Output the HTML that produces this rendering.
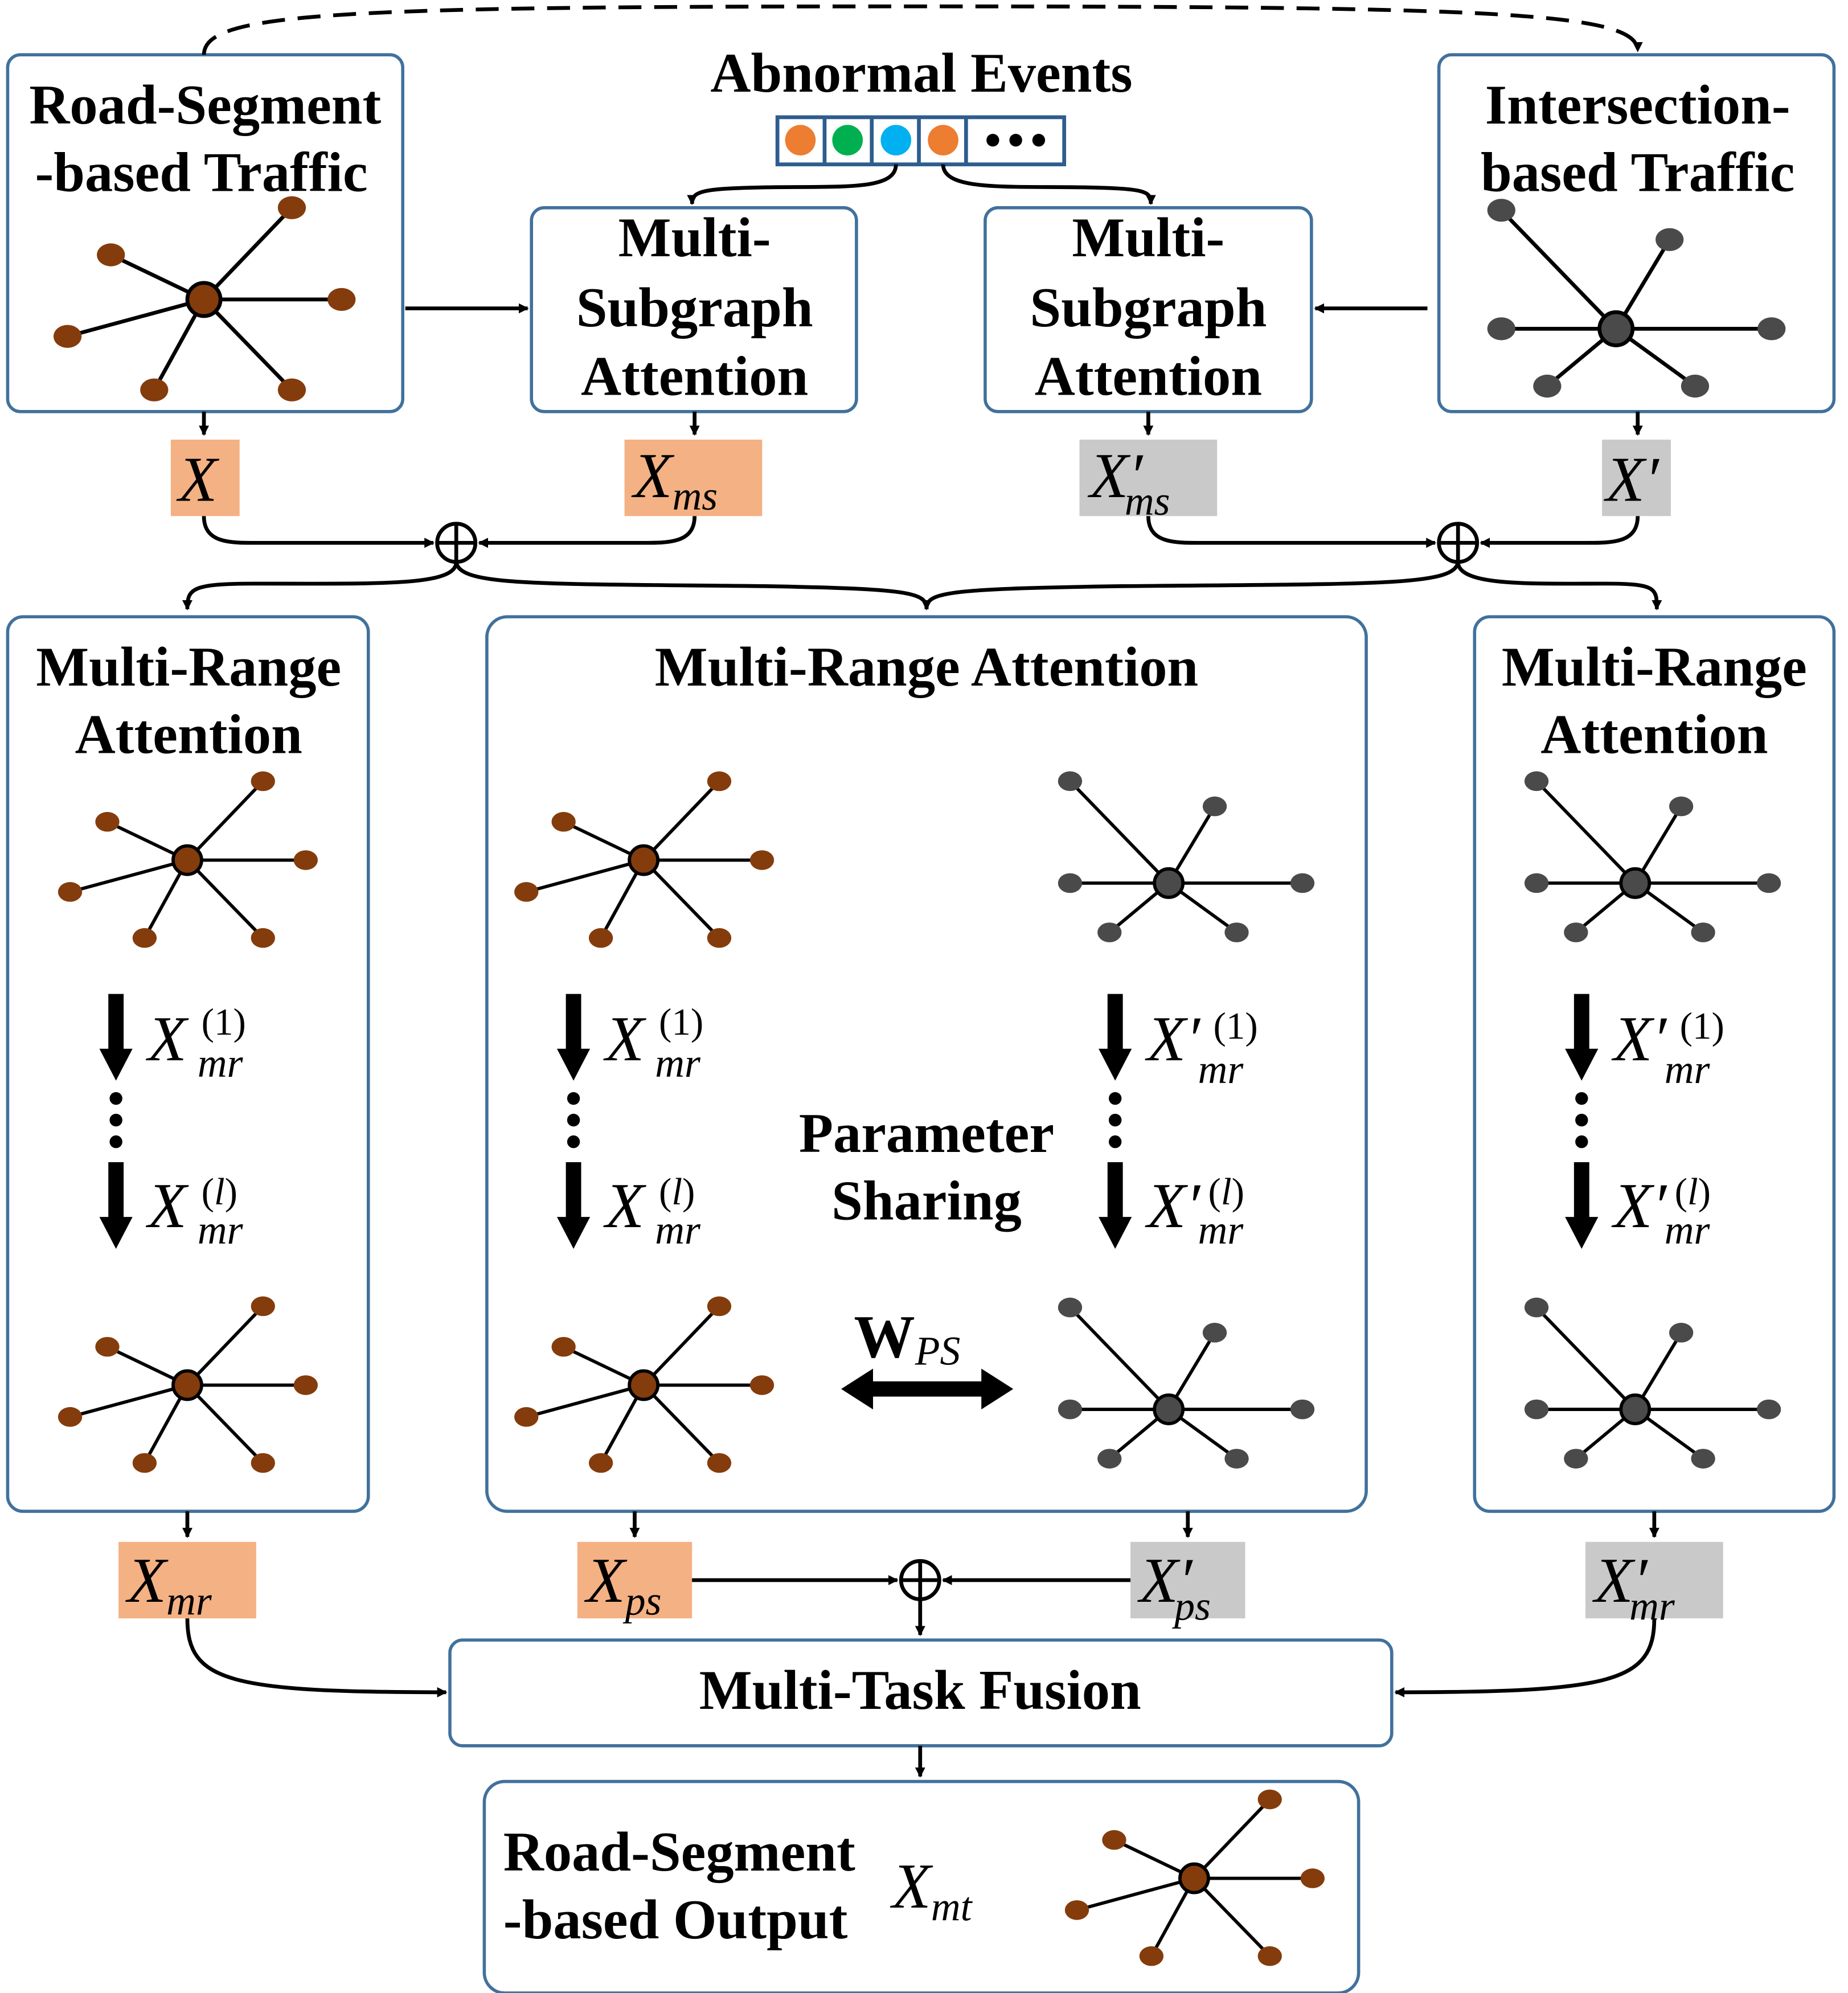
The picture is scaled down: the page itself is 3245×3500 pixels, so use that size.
<!DOCTYPE html>
<html><head><meta charset="utf-8"><style>
html,body{margin:0;padding:0;background:#fff}
svg{display:block}
.t{font-family:"Liberation Serif",serif;font-weight:bold;fill:#000}
.m{font-family:"Liberation Serif",serif;font-style:italic;fill:#000}
.s{font-family:"Liberation Serif",serif;fill:#000;font-size:30px}
</style></head><body>
<svg width="3245" height="3500" viewBox="0 0 1450 1564" preserveAspectRatio="none" xmlns="http://www.w3.org/2000/svg">
<defs>
<marker id="a" markerWidth="8" markerHeight="8" refX="7" refY="4" orient="auto" markerUnits="userSpaceOnUse"><path d="M0,0 L8,4 L0,8 z" fill="#000"/></marker>
<g id="bs">
<g stroke="#000" stroke-width="3">
<line x1="0" y1="0" x2="69" y2="-72"/><line x1="0" y1="0" x2="-73" y2="-35"/><line x1="0" y1="0" x2="108" y2="0"/>
<line x1="0" y1="0" x2="-107" y2="29"/><line x1="0" y1="0" x2="-39" y2="71"/><line x1="0" y1="0" x2="69" y2="71"/></g>
<g fill="#843c0c"><ellipse cx="69" cy="-72" rx="11" ry="9"/><ellipse cx="-73" cy="-35" rx="11" ry="9"/><ellipse cx="108" cy="0" rx="11" ry="9"/>
<ellipse cx="-107" cy="29" rx="11" ry="9"/><ellipse cx="-39" cy="71" rx="11" ry="9"/><ellipse cx="69" cy="71" rx="11" ry="9"/>
<circle r="13" stroke="#000" stroke-width="3"/></g></g>
<g id="gs">
<g stroke="#000" stroke-width="3">
<line x1="0" y1="0" x2="-90" y2="-93"/><line x1="0" y1="0" x2="42" y2="-70"/><line x1="-90" y1="0" x2="122" y2="0"/>
<line x1="0" y1="0" x2="-54" y2="45"/><line x1="0" y1="0" x2="62" y2="45"/></g>
<g fill="#4a4a4a"><ellipse cx="-90" cy="-93" rx="11" ry="9"/><ellipse cx="42" cy="-70" rx="11" ry="9"/><ellipse cx="-90" cy="0" rx="11" ry="9"/>
<ellipse cx="122" cy="0" rx="11" ry="9"/><ellipse cx="-54" cy="45" rx="11" ry="9"/><ellipse cx="62" cy="45" rx="11" ry="9"/>
<circle r="13" stroke="#000" stroke-width="3"/></g></g>
</defs>
<g fill="none" stroke="#41719c" stroke-width="2.5">
<rect x="6" y="43" width="310" height="280" rx="10"/>
<rect x="417" y="163" width="255" height="160" rx="10"/>
<rect x="773" y="163" width="256" height="160" rx="10"/>
<rect x="1129" y="43" width="310" height="280" rx="10"/>
<rect x="6" y="484" width="283" height="702" rx="12"/>
<rect x="382" y="484" width="690" height="702" rx="16"/>
<rect x="1157" y="484" width="282" height="702" rx="12"/>
<rect x="353" y="1287" width="739" height="83" rx="10"/>
<rect x="380" y="1398" width="686" height="166" rx="16"/>
</g>
<g class="t" font-size="44" text-anchor="middle">
<text x="161" y="97">Road-Segment</text><text x="158" y="150">-based Traffic</text>
<text x="545" y="201">Multi-</text><text x="545" y="256">Subgraph</text><text x="545" y="310">Attention</text>
<text x="901" y="201">Multi-</text><text x="901" y="256">Subgraph</text><text x="901" y="310">Attention</text>
<text x="1285" y="97">Intersection-</text><text x="1285" y="150">based Traffic</text>
<text x="723" y="72">Abnormal Events</text>
<text x="148" y="538">Multi-Range</text><text x="148" y="591">Attention</text>
<text x="727" y="538">Multi-Range Attention</text>
<text x="1298" y="538">Multi-Range</text><text x="1298" y="591">Attention</text>
<text x="727" y="904">Parameter</text><text x="727" y="957">Sharing</text>
<text x="722" y="1341">Multi-Task Fusion</text>
<text x="533" y="1468">Road-Segment</text><text x="530" y="1521">-based Output</text>
</g>
<!-- events -->
<rect x="610" y="92" width="225" height="37" fill="#fff" stroke="#2e5d8e" stroke-width="3"/>
<g stroke="#2e5d8e" stroke-width="3"><line x1="647" y1="92" x2="647" y2="129"/><line x1="684" y1="92" x2="684" y2="129"/><line x1="721" y1="92" x2="721" y2="129"/><line x1="758" y1="92" x2="758" y2="129"/></g>
<circle cx="628" cy="110" r="12" fill="#ed7d31"/><circle cx="665" cy="110" r="12" fill="#00b050"/><circle cx="703" cy="110" r="12" fill="#00b0f0"/><circle cx="740" cy="110" r="12" fill="#ed7d31"/>
<circle cx="779" cy="110" r="5"/><circle cx="797" cy="110" r="5"/><circle cx="815" cy="110" r="5"/>
<!-- stars -->
<use href="#bs" x="160" y="235"/>
<use href="#bs" transform="translate(147,675) scale(0.86)"/><use href="#bs" transform="translate(505,675) scale(0.86)"/>
<use href="#bs" transform="translate(147,1087) scale(0.86)"/><use href="#bs" transform="translate(505,1087) scale(0.86)"/>
<use href="#bs" transform="translate(937,1474) scale(0.86)"/>
<use href="#gs" x="1268" y="258"/>
<use href="#gs" transform="translate(917,693) scale(0.86)"/><use href="#gs" transform="translate(1283,693) scale(0.86)"/>
<use href="#gs" transform="translate(917,1106) scale(0.86)"/><use href="#gs" transform="translate(1283,1106) scale(0.86)"/>
<!-- label boxes -->
<rect x="134" y="345" width="54" height="60" fill="#f4b183"/><rect x="490" y="345" width="108" height="60" fill="#f4b183"/>
<rect x="847" y="345" width="108" height="60" fill="#c9c9c9"/><rect x="1257" y="345" width="54" height="60" fill="#c9c9c9"/>
<rect x="93" y="1210" width="108" height="60" fill="#f4b183"/><rect x="453" y="1210" width="90" height="60" fill="#f4b183"/>
<rect x="887" y="1210" width="90" height="60" fill="#c9c9c9"/><rect x="1244" y="1210" width="108" height="60" fill="#c9c9c9"/>
<g class="m" font-size="50">
<text x="140" y="393">X</text>
<text x="497" y="390">X<tspan font-size="32" dy="10">ms</tspan></text>
<text x="855" y="390">X′<tspan font-size="32" dy="14" dx="-14">ms</tspan></text>
<text x="1260" y="393">X′</text>
<text x="100" y="1257">X<tspan font-size="32" dy="10">mr</tspan></text>
<text x="460" y="1257">X<tspan font-size="32" dy="10">ps</tspan></text>
<text x="894" y="1257">X′<tspan font-size="32" dy="14" dx="-14">ps</tspan></text>
<text x="1251" y="1257">X′<tspan font-size="32" dy="14" dx="-14">mr</tspan></text>
<text x="700" y="1497">X<tspan font-size="32" dy="10">mt</tspan></text>
</g>
<g>
<g id="col">
<rect x="85" y="780" width="12" height="45"/><path d="M78,823 L104,823 L91,848 z"/>
<circle cx="91" cy="862" r="5"/><circle cx="91" cy="879" r="5"/><circle cx="91" cy="896" r="5"/>
<rect x="85" y="912" width="12" height="45"/><path d="M78,955 L104,955 L91,980 z"/>
</g>
<use href="#col" x="359" y="0"/><use href="#col" x="784" y="0"/><use href="#col" x="1150" y="0"/>
</g>
<!-- X_mr labels -->
<g class="m" font-size="50">
<text x="116" y="832">X</text><text x="116" y="963">X</text>
<text x="475" y="832">X</text><text x="475" y="963">X</text>
<text x="900" y="832">X′</text><text x="900" y="963">X′</text>
<text x="1266" y="832">X′</text><text x="1266" y="963">X′</text>
</g>
<g class="m" font-size="32">
<text x="155" y="845">mr</text><text x="155" y="976">mr</text>
<text x="514" y="845">mr</text><text x="514" y="976">mr</text>
<text x="940" y="850">mr</text><text x="940" y="976">mr</text>
<text x="1306" y="850">mr</text><text x="1306" y="976">mr</text>
</g>
<g class="s">
<text x="158" y="812">(1)</text><text x="158" y="945">(<tspan font-style="italic">l</tspan>)</text>
<text x="517" y="812">(1)</text><text x="517" y="945">(<tspan font-style="italic">l</tspan>)</text>
<text x="952" y="815">(1)</text><text x="948" y="945">(<tspan font-style="italic">l</tspan>)</text>
<text x="1318" y="815">(1)</text><text x="1314" y="945">(<tspan font-style="italic">l</tspan>)</text>
</g>
<text x="670" y="1065" font-family="Liberation Serif,serif" font-weight="bold" font-size="48">W<tspan font-style="italic" font-weight="normal" font-size="32" dy="6">PS</tspan></text>
<path d="M660,1090 L685,1074 L685,1084 L770,1084 L770,1074 L795,1090 L770,1106 L770,1096 L685,1096 L685,1106 z"/>
<!-- connectors -->
<g fill="none" stroke="#000" stroke-width="3">
<path d="M160,43 C160,10 260,5 720,5 C1180,5 1285,10 1285,40" stroke-dasharray="18,10" marker-end="url(#a)"/>
<path d="M318,242 L414,242" marker-end="url(#a)"/>
<path d="M1120,242 L1032,242" marker-end="url(#a)"/>
<path d="M703,129 C703,150 660,146 600,147 C550,148 543,150 543,160" marker-end="url(#a)"/>
<path d="M740,129 C740,150 790,146 850,147 C900,148 903,150 903,160" marker-end="url(#a)"/>
<path d="M160,323 L160,341" marker-end="url(#a)"/><path d="M545,323 L545,341" marker-end="url(#a)"/>
<path d="M901,323 L901,341" marker-end="url(#a)"/><path d="M1285,323 L1285,341" marker-end="url(#a)"/>
<path d="M160,405 C160,426 180,426 200,426 L340,426" marker-end="url(#a)"/>
<path d="M545,405 C545,426 525,426 505,426 L376,426" marker-end="url(#a)"/>
<path d="M901,405 C901,426 921,426 941,426 L1126,426" marker-end="url(#a)"/>
<path d="M1285,405 C1285,426 1265,426 1245,426 L1162,426" marker-end="url(#a)"/>
<circle cx="358" cy="426" r="15"/><line x1="343" y1="426" x2="373" y2="426"/><line x1="358" y1="411" x2="358" y2="441"/>
<circle cx="1144" cy="426" r="15"/><line x1="1129" y1="426" x2="1159" y2="426"/><line x1="1144" y1="411" x2="1144" y2="441"/>
<path d="M358,441 C358,460 300,458 200,458 C150,458 147,462 147,478" marker-end="url(#a)"/>
<path d="M358,441 C360,460 420,458 600,460 C715,462 727,465 727,478" marker-end="url(#a)"/>
<path d="M1144,441 C1142,460 1080,458 880,460 C740,462 727,465 727,478" marker-end="url(#a)"/>
<path d="M1144,441 C1144,460 1200,458 1260,458 C1300,458 1300,462 1300,478" marker-end="url(#a)"/>
<path d="M147,1186 L147,1206" marker-end="url(#a)"/><path d="M498,1186 L498,1206" marker-end="url(#a)"/>
<path d="M932,1186 L932,1206" marker-end="url(#a)"/><path d="M1298,1186 L1298,1206" marker-end="url(#a)"/>
<path d="M543,1240 L704,1240" marker-end="url(#a)"/><path d="M887,1240 L740,1240" marker-end="url(#a)"/>
<circle cx="722" cy="1240" r="15"/><line x1="707" y1="1240" x2="737" y2="1240"/><line x1="722" y1="1225" x2="722" y2="1255"/>
<path d="M722,1255 L722,1283" marker-end="url(#a)"/>
<path d="M147,1270 C147,1320 180,1328 350,1328" marker-end="url(#a)"/>
<path d="M1298,1270 C1298,1320 1265,1328 1095,1328" marker-end="url(#a)"/>
<path d="M722,1370 L722,1394" marker-end="url(#a)"/>
</g>
</svg>
</body></html>
